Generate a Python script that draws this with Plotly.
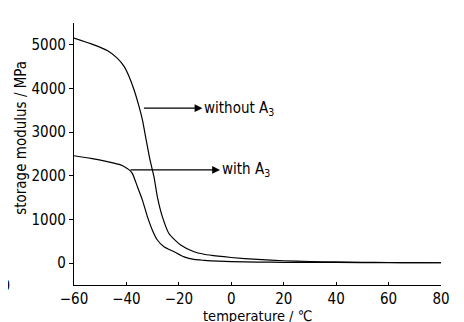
import plotly.graph_objects as go

# temperature (°C) and storage modulus (MPa)
t_without = [-60, -52.4, -47.3, -43.5, -40.9, -39.0, -37.1, -35.2, -33.9, -32.7, -31.0, -29.5, -28.2, -26.3, -23.8, -19.3, -14.2, -10.4, -5, 0, 10, 20, 30, 40, 50, 60, 70, 80]
e_without = [5155, 5000, 4870, 4695, 4505, 4275, 3970, 3590, 3280, 2900, 2365, 1980, 1520, 1065, 680, 415, 260, 205, 160, 130, 85, 55, 38, 28, 20, 15, 12, 10]

t_with = [-60, -53.6, -47.3, -42.2, -39.7, -38.6, -37.7, -35.8, -33.9, -32.0, -30.1, -28.2, -25.7, -21.8, -18.0, -14.2, -10.4, -5, 0, 10, 20, 40, 60, 80]
e_with = [2460, 2400, 2325, 2250, 2170, 2120, 2050, 1750, 1445, 1065, 755, 530, 375, 260, 145, 85, 65, 45, 35, 25, 20, 15, 12, 10]

labels = ["without A<sub>3</sub>", "with A<sub>3</sub>"]
arrow_tail_t = [-33.9, -39.0]
arrow_tail_e = [3550, 2135]
arrow_tip_t = [-11.0, -4.3]

x_ticks = [-60, -40, -20, 0, 20, 40, 60, 80]
y_ticks = [0, 1000, 2000, 3000, 4000, 5000]
x_title = "temperature / ℃"
y_title = "storage modulus / MPa"

FONT = "DejaVu Sans Condensed, Liberation Sans Narrow, Arial Narrow, sans-serif"

fig = go.Figure()
fig.add_trace(go.Scatter(x=t_without, y=e_without, mode="lines",
                         line=dict(color="black", width=1.2, shape="spline", smoothing=0.6),
                         showlegend=False))
fig.add_trace(go.Scatter(x=t_with, y=e_with, mode="lines",
                         line=dict(color="black", width=1.2, shape="spline", smoothing=0.6),
                         showlegend=False))

for lab, tt, te, tip in zip(labels, arrow_tail_t, arrow_tail_e, arrow_tip_t):
    fig.add_annotation(x=tip, y=te, ax=tt, ay=te, xref="x", yref="y",
                       axref="x", ayref="y", text="", showarrow=True,
                       arrowhead=2, arrowsize=1.3, arrowwidth=1.2, arrowcolor="black")
    fig.add_annotation(x=tip, y=te, xref="x", yref="y", text=lab,
                       showarrow=False, xanchor="left", yanchor="middle", xshift=0,
                       font=dict(family=FONT, size=15, color="black"))

# axis titles as annotations for exact placement
fig.add_annotation(x=0.5, y=0, xref="paper", yref="paper", text=x_title,
                   showarrow=False, xanchor="center", yanchor="middle", yshift=-30.5,
                   font=dict(family=FONT, size=14.5, color="black"))
fig.add_annotation(x=-0.143, y=0.56, xref="paper", yref="paper", text=y_title,
                   showarrow=False, xanchor="center", yanchor="middle", textangle=-90,
                   font=dict(family=FONT, size=15, color="black"))

# stray partial label at far left of the original image
fig.add_annotation(x=-0.169, y=0, xref="paper", yref="paper", text="0",
                   showarrow=False, xanchor="right", yanchor="middle",
                   font=dict(family=FONT, size=16, color="black"))

fig.update_layout(
    width=464, height=322,
    margin=dict(l=66, r=31, t=15, b=45),
    plot_bgcolor="white", paper_bgcolor="white",
    font=dict(family=FONT, size=15, color="black"),
    xaxis=dict(range=[-60, 80], tickvals=x_ticks, ticks="inside", ticklen=3,
               tickcolor="black", showline=True, linecolor="black", linewidth=1.3,
               showgrid=False, zeroline=False, automargin=False,
               tickfont=dict(size=15)),
    yaxis=dict(range=[-500, 5500], tickvals=y_ticks, ticks="outside", ticklen=4,
               tickcolor="black", showline=True, linecolor="black", linewidth=1.3,
               showgrid=False, zeroline=False, automargin=False,
               tickfont=dict(size=15)),
)

fig.write_html("out.html")
